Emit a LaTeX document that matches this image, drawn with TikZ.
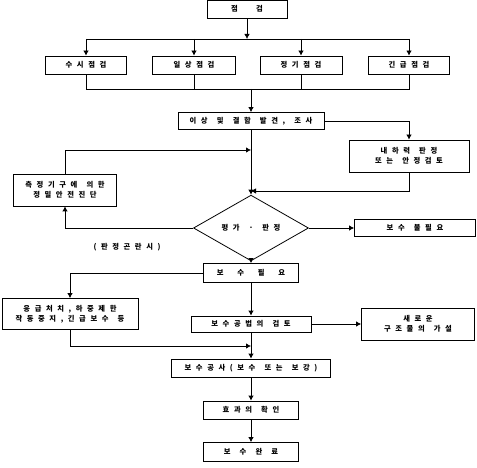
\documentclass[tikz,border=0pt]{standalone}
\usepackage{fontspec}
\newfontfamily\kr[LetterSpace=40]{Noto Sans CJK KR}
\usetikzlibrary{arrows.meta,shapes.geometric}

\begin{document}
\begin{tikzpicture}[
  x=1pt, y=-1pt,
  box/.style={draw, line width=0.8pt, inner sep=0pt, align=center,
    font=\kr\bfseries\fontsize{7.3}{10}\selectfont},
  dia/.style={diamond, draw, line width=0.8pt, inner sep=0pt,
    minimum width=115pt, minimum height=37pt,
    font=\kr\bfseries\fontsize{7.3}{10}\selectfont},
  ln/.style={line width=0.8pt},
  arr/.style={line width=0.8pt, -{Latex[length=5pt,width=5.5pt]}}
]
\useasboundingbox (0,0) rectangle (477,468);

% --- boxes ---
\node[box, minimum width=80pt,  minimum height=18pt] (jg)  at (247,9)   {점 \ \ \ 검};
\node[box, minimum width=81pt,  minimum height=18pt] (su)  at (86,65)   {수 시 점 검};
\node[box, minimum width=83pt,  minimum height=18pt] (il)  at (194,65)  {일 상 점 검};
\node[box, minimum width=82pt,  minimum height=18pt] (jgi) at (301,65)  {정 기 점 검};
\node[box, minimum width=81pt,  minimum height=18pt] (gg)  at (409,65)  {긴 급 점 검};
\node[box, minimum width=146pt, minimum height=17pt] (ea)  at (251,121) {이 상 \ 및 \ 결 함 \ 발 견 , \ 조 사};
\node[box, minimum width=120pt, minimum height=32pt] (nh)  at (409,156) {내 하 력 \ 판 정\\또 는 \ 안 정 검 토};
\node[box, minimum width=103pt, minimum height=32pt] (ms)  at (65,190)  {측 정 기 구 에 \ 의 한\\정 밀 안 전 진 단};
\node[dia] (pg) at (251,228) {평 가 \ · \ 판 정};
\node[box, minimum width=121pt, minimum height=17pt] (nf)  at (415,228) {보 수 \ 불 필 요};
\node[font=\kr\bfseries\fontsize{7.3}{10}\selectfont, inner sep=0pt] (note) at (127,247) {( 판 정 곤 란 시 )};
\node[box, minimum width=95pt,  minimum height=19pt] (pn)  at (251,273) {보 \ \ 수 \ \ 필 \ \ 요};
\node[box, minimum width=136pt, minimum height=31pt] (eg)  at (70,314)  {응 급 처 치 , 하 중 제 한\\작 동 중 지 , 긴 급 보 수 \ 등};
\node[box, minimum width=120pt, minimum height=16pt] (gb)  at (251,324) {보 수 공 법 의 \ 검 토};
\node[box, minimum width=113pt, minimum height=32pt] (sr)  at (418,324) {새 로 운\\구 조 물 의 \ 가 설};
\node[box, minimum width=159pt, minimum height=18pt] (gs)  at (251,368) {보 수 공 사 ( 보 수 \ 또 는 \ 보 강 )};
\node[box, minimum width=95pt,  minimum height=18pt] (hg)  at (251,410) {효 과 의 \ 확 인};
\node[box, minimum width=95pt,  minimum height=19pt] (wr)  at (251,452) {보 \ 수 \ 완 \ 료};

% --- junctions ---
\coordinate (s0) at (247,39);
\coordinate (m0) at (251,89);
\coordinate (j1) at (251,150);
\coordinate (j2) at (251,191);
\coordinate (j3) at (251,346);

% --- split into four inspections ---
\draw[arr] (jg.south) -- (s0);
\draw[ln] (su.north |- s0) -- (gg.north |- s0);
\foreach \n in {su,il,jgi,gg}
  \draw[arr] (\n.north |- s0) -- (\n.north);

% --- merge ---
\draw[ln] (su.south) -- (su.south |- m0) -- (gg.south |- m0) -- (gg.south);
\draw[ln] (il.south) -- (il.south |- m0);
\draw[ln] (jgi.south) -- (jgi.south |- m0);
\draw[arr] (m0) -- (ea.north);

% --- evaluation ---
\draw[arr] (ea.east) -| (nh.north);
\draw[arr] (nh.south) |- (j2);
\draw[arr] (ea.south) -- (pg.north);
\draw[arr] (ms.north) |- (j1);
\draw[arr] (pg.west) -| (ms.south);
\draw[arr] (pg.east) -- (nf.west);
\draw[arr] (pg.south) -- (pn.north);

% --- repair ---
\draw[arr] (pn.west) -| (eg.north);
\draw[arr] (eg.south) |- (j3);
\draw[arr] (pn.south) -- (gb.north);
\draw[arr] (gb.east) -- (sr.west);
\draw[arr] (gb.south) -- (gs.north);
\draw[arr] (gs.south) -- (hg.north);
\draw[arr] (hg.south) -- (wr.north);

\end{tikzpicture}
\end{document}
